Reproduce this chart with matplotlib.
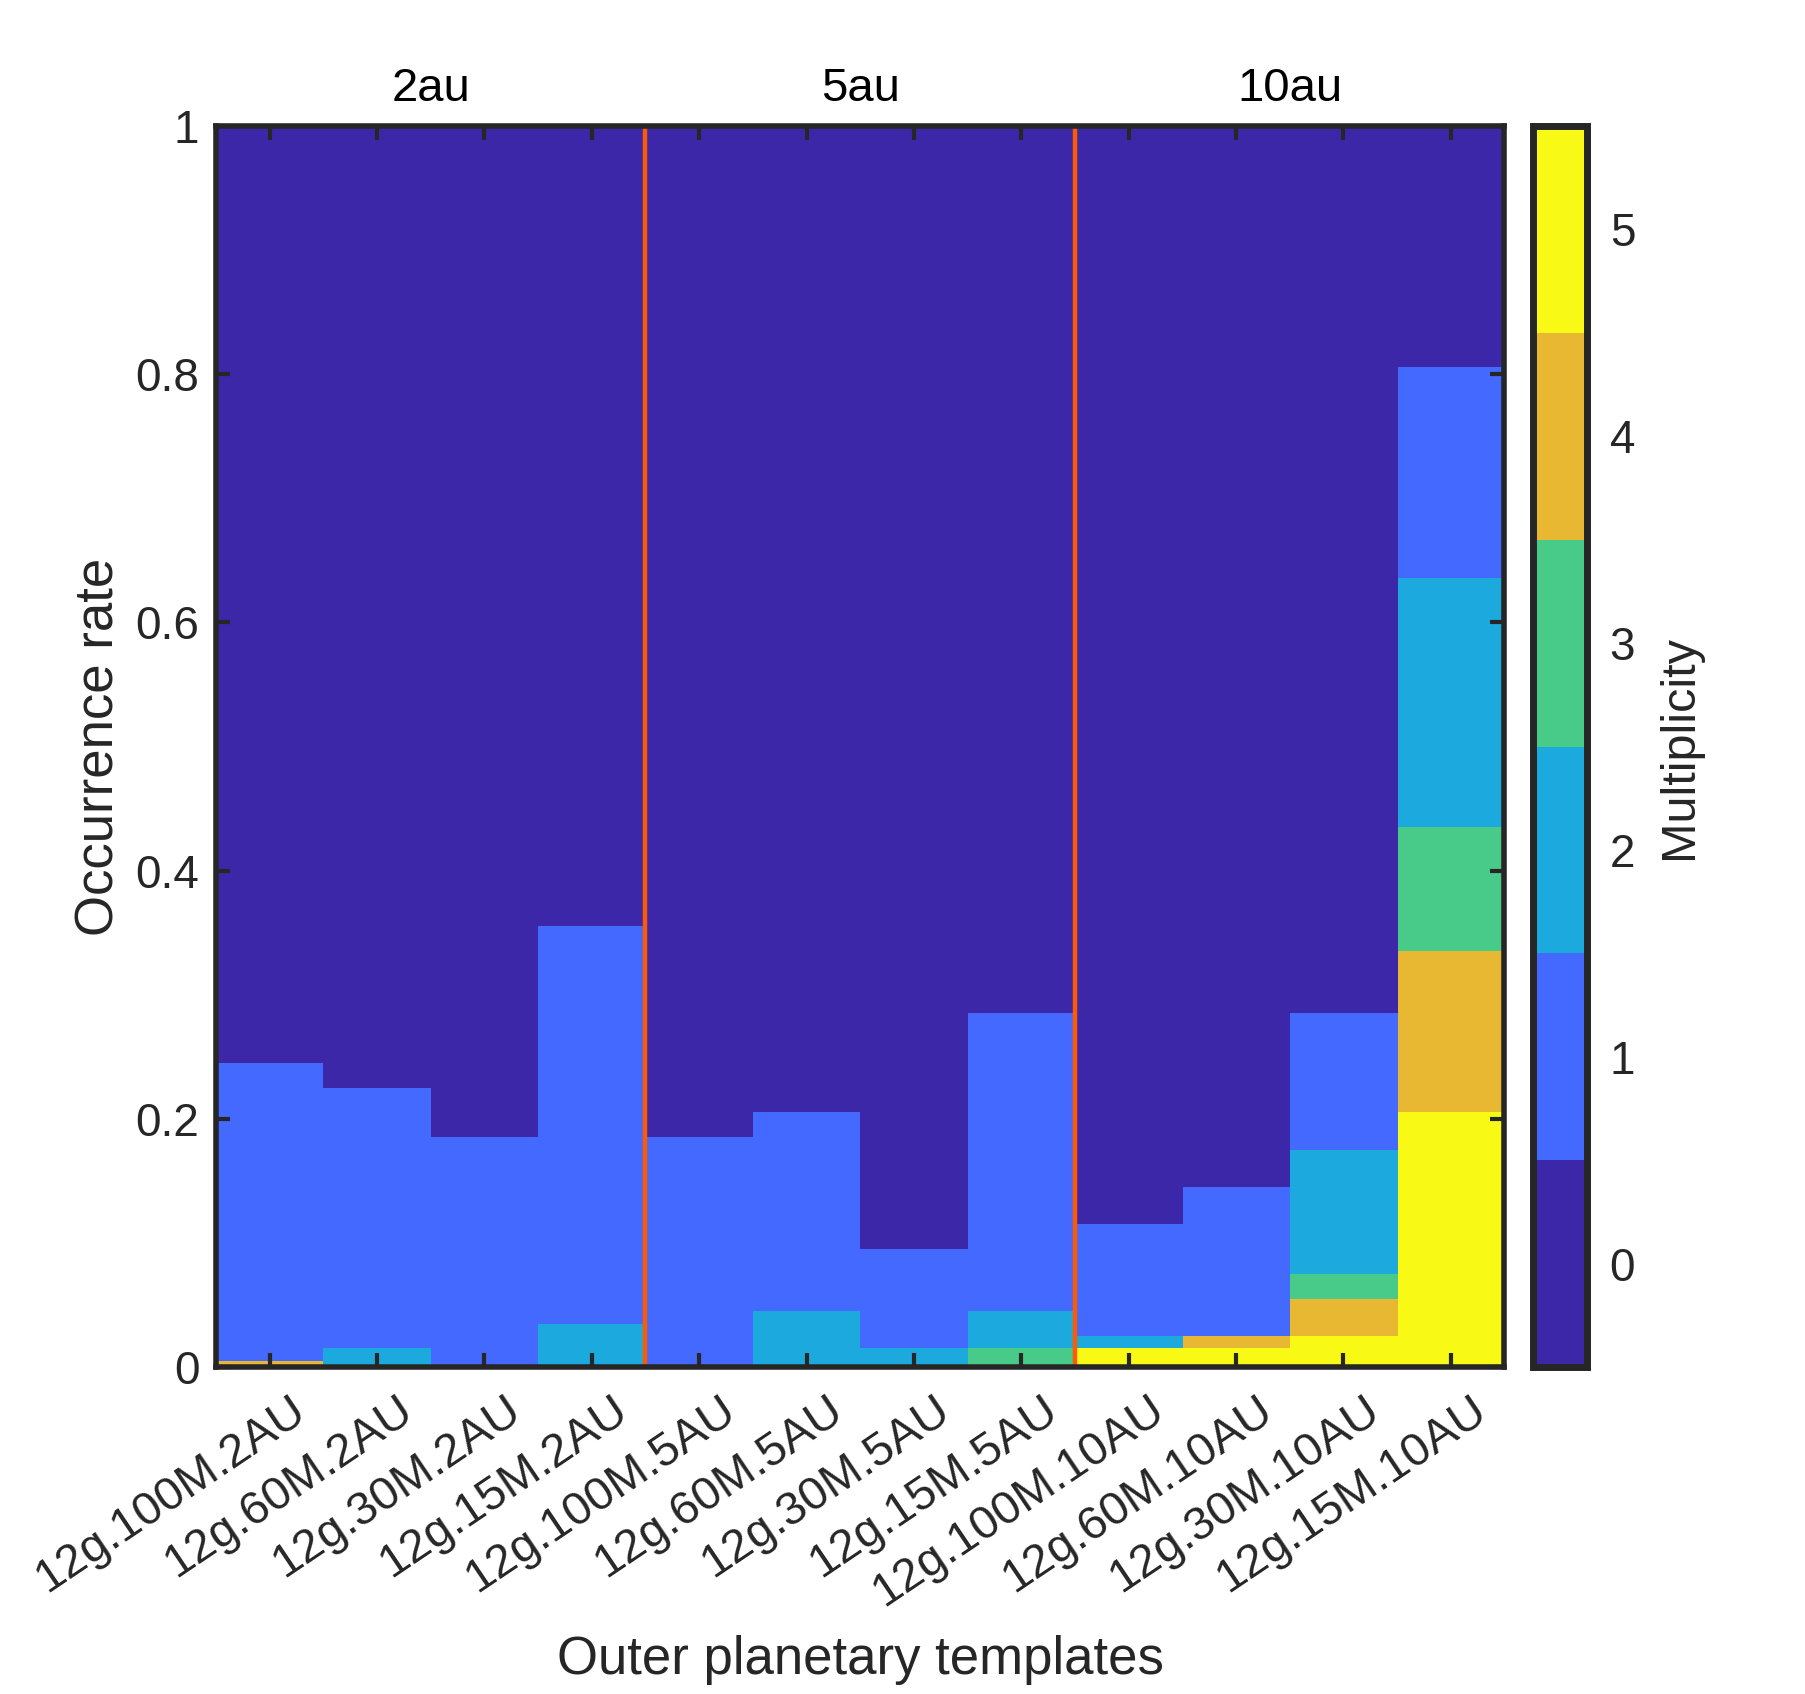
import numpy as np
import matplotlib.pyplot as plt
import matplotlib.transforms as mtransforms
from matplotlib.colors import ListedColormap, BoundaryNorm

plt.rcParams['font.family'] = ['Liberation Sans', 'DejaVu Sans']

### Templates and group labels
templates = ['12g.100M.2AU', '12g.60M.2AU', '12g.30M.2AU', '12g.15M.2AU',
             '12g.100M.5AU', '12g.60M.5AU', '12g.30M.5AU', '12g.15M.5AU',
             '12g.100M.10AU', '12g.60M.10AU', '12g.30M.10AU', '12g.15M.10AU']
groups = ['2au', '5au', '10au']

# number of systems (out of 100) with multiplicity 1..5, per template
mult1 = [24, 21, 19, 32, 19, 16, 8, 24, 9, 12, 11, 17]
mult2 = [0, 2, 0, 4, 0, 5, 2, 3, 1, 0, 10, 20]
mult3 = [0, 0, 0, 0, 0, 0, 0, 2, 0, 0, 2, 10]
mult4 = [1, 0, 0, 0, 0, 0, 0, 0, 0, 1, 3, 13]
mult5 = [0, 0, 0, 0, 0, 0, 0, 0, 2, 2, 3, 21]

nrows = 101  # y = 0:0.01:1
counts = [mult5, mult4, mult3, mult2, mult1]
img = np.zeros((nrows, len(templates)))
for j in range(len(templates)):
    col = []
    for m, c in zip([5, 4, 3, 2, 1], counts):
        col += [m]*c[j]
    col += [0]*(nrows-len(col))
    img[:, j] = col

cmap = ListedColormap(['#3C27A9', '#4469FE', '#1CA9DE', '#48CB88', '#E9B832', '#F8FA15'])
norm = BoundaryNorm(np.arange(-0.5, 6.0, 1), cmap.N)

fig = plt.figure(figsize=(9.03, 8.47), dpi=200)
ax = fig.add_axes([0.1196, 0.193, 0.7134, 0.7326])
im = ax.imshow(img, origin='lower', aspect='auto', cmap=cmap, norm=norm,
               extent=[0.5, len(templates)+0.5, -0.005, 1.005], interpolation='nearest')
ax.set_ylim(0, 1)
ax.set_xlim(0.5, len(templates)+0.5)

# separators between groups
for xv in [4.5, 8.5]:
    ax.axvline(xv, color='#FF5A00', lw=1.6)
for i, g in enumerate(groups):
    ax.text(2.5+4*i, 1.012, g, ha='center', va='bottom', fontsize=17)

ax.tick_params(direction='in', length=5, width=1.5, top=True, right=True, color='#262626',
               labelcolor='#262626', pad=6)
ax.set_xticks(np.arange(1, len(templates)+1))
ax.set_xticklabels(templates, rotation=34, ha='right', rotation_mode='anchor', fontsize=17)
shift = mtransforms.ScaledTranslation(0.1, -0.02, fig.dpi_scale_trans)
for lab in ax.get_xticklabels():
    lab.set_transform(lab.get_transform() + shift)
ax.set_yticks([0, 0.2, 0.4, 0.6, 0.8, 1])
ax.set_yticklabels(['0', '0.2', '0.4', '0.6', '0.8', '1'], fontsize=16.5)
for s in ax.spines.values():
    s.set_linewidth(2)
    s.set_color('#262626')
ax.set_xlabel('Outer planetary templates', fontsize=19, color='#262626', va='center')
ax.xaxis.set_label_coords(0.5, -0.236)
ax.set_ylabel('Occurrence rate', fontsize=19, color='#262626', labelpad=4)

cax = fig.add_axes([0.849, 0.193, 0.030, 0.7326])
cb = fig.colorbar(im, cax=cax, ticks=range(6))
cb.minorticks_off()
cb.set_label('Multiplicity', fontsize=17.5, color='#262626', labelpad=8)
cb.ax.tick_params(direction='in', length=0, labelsize=16.5, labelcolor='#262626', pad=8)
cb.outline.set_linewidth(2.5)
cb.outline.set_edgecolor('#262626')

fig.savefig('out.png', dpi=200)
